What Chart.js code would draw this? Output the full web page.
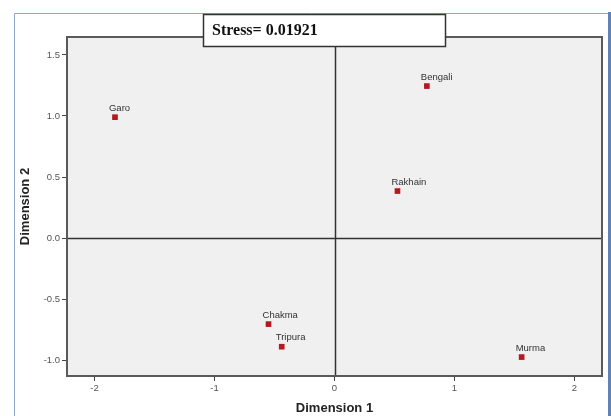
<!DOCTYPE html>
<html>
<head>
<meta charset="utf-8">
<script src="https://cdn.jsdelivr.net/npm/chart.js@4.4.1/dist/chart.umd.min.js"></script>
<style>
  html, body { margin: 0; padding: 0; background: #fff; }
  #wrap { width: 611px; height: 416px; }
</style>
</head>
<body>
<div id="wrap"><canvas id="myChart" width="611" height="416"></canvas></div>
<script>
'use strict'
//////////////////
// Data
//////////////////
const groupNames = ['Garo', 'Bengali', 'Rakhain', 'Chakma', 'Tripura', 'Murma'];
const dimension1 = [-1.83, 0.77, 0.525, -0.55, -0.44, 1.56];
const dimension2 = [0.99, 1.245, 0.385, -0.705, -0.89, -0.975];
const xTicks = [-2, -1, 0, 1, 2];
const yTicks = [-1.0, -0.5, 0.0, 0.5, 1.0, 1.5];
const stressText = 'Stress= 0.01921';

//////////////////
// Plugin for the SPSS look
//////////////////
const spssLook = {
  id: 'spssLook',
  beforeDraw(chart) {
    const ctx = chart.ctx;
    const a = chart.chartArea;
    ctx.save();
    ctx.fillStyle = '#ffffff';
    ctx.fillRect(0, 0, chart.width, chart.height);
    // outer frame
    ctx.strokeStyle = '#8fa8c9';
    ctx.lineWidth = 1;
    ctx.beginPath();
    ctx.moveTo(14.5, chart.height);
    ctx.lineTo(14.5, 13.5);
    ctx.lineTo(608, 13.5);
    ctx.stroke();
    ctx.strokeStyle = '#5f83b8';
    ctx.lineWidth = 3;
    ctx.beginPath();
    ctx.moveTo(609.5, 12);
    ctx.lineTo(609.5, chart.height);
    ctx.stroke();
    // plot background
    ctx.fillStyle = '#f0f0f0';
    ctx.fillRect(a.left, a.top, a.right - a.left, a.bottom - a.top);
    ctx.restore();
  },
  beforeDatasetsDraw(chart) {
    const ctx = chart.ctx;
    const a = chart.chartArea;
    const x0 = Math.round(chart.scales.x.getPixelForValue(0)) + 0.5;
    const y0 = Math.round(chart.scales.y.getPixelForValue(0)) + 0.5;
    ctx.save();
    ctx.strokeStyle = '#333333';
    ctx.lineWidth = 1.5;
    ctx.beginPath();
    ctx.moveTo(x0, a.top);
    ctx.lineTo(x0, a.bottom);
    ctx.moveTo(a.left, y0);
    ctx.lineTo(a.right, y0);
    ctx.stroke();
    // plot frame
    ctx.strokeStyle = '#5a5a5a';
    ctx.lineWidth = 2;
    ctx.strokeRect(a.left, a.top, a.right - a.left, a.bottom - a.top);
    ctx.restore();
  },
  afterDatasetsDraw(chart) {
    const ctx = chart.ctx;
    const meta = chart.getDatasetMeta(0);
    ctx.save();
    ctx.font = '9.5px "Liberation Sans", Arial, sans-serif';
    ctx.fillStyle = '#333333';
    ctx.textAlign = 'left';
    ctx.textBaseline = 'middle';
    meta.data.forEach((pt, i) => {
      ctx.fillText(groupNames[i], pt.x - 6, pt.y - 9);
    });
    ctx.restore();
  },
  afterDraw(chart) {
    const ctx = chart.ctx;
    ctx.save();
    ctx.fillStyle = '#ffffff';
    ctx.fillRect(203, 14, 242, 32);
    ctx.strokeStyle = '#333333';
    ctx.lineWidth = 1.5;
    ctx.strokeRect(203.5, 14.5, 242, 32);
    ctx.fillStyle = '#111111';
    ctx.font = 'bold 16px "Liberation Serif", "Times New Roman", serif';
    ctx.textAlign = 'left';
    ctx.textBaseline = 'middle';
    ctx.fillText(stressText, 212, 31);
    ctx.restore();
  }
};

//////////////////
// Chart
//////////////////
function renderChart() {
  const points = dimension1.map((v, i) => ({ x: v, y: dimension2[i] }));

  const config = {
    type: 'scatter',
    data: {
      datasets: [{
        label: 'Groups',
        data: points,
        pointStyle: 'rect',
        pointRadius: 4,
        pointHoverRadius: 4,
        backgroundColor: '#b3191e',
        borderColor: '#b3191e',
        borderWidth: 0
      }]
    },
    options: {
      responsive: false,
      animation: false,
      events: [],
      layout: { padding: { left: 0, top: 37, right: 9, bottom: 0 } },
      plugins: {
        legend: { display: false },
        tooltip: { enabled: false }
      },
      scales: {
        x: {
          type: 'linear',
          min: -2.23,
          max: 2.23,
          afterBuildTicks: (scale) => { scale.ticks = xTicks.map(v => ({ value: v })); },
          afterFit: (scale) => { scale.height = 40; },
          grid: { drawOnChartArea: false, drawTicks: true, tickLength: 5, color: '#444444' },
          border: { display: false },
          ticks: {
            padding: 2,
            color: '#555555',
            font: { family: '"Liberation Sans", Arial, sans-serif', size: 9.5 },
            callback: (v) => String(v)
          },
          title: {
            display: true,
            text: 'Dimension 1',
            color: '#222222',
            font: { family: '"Liberation Sans", Arial, sans-serif', size: 13, weight: 'bold' },
            padding: { top: 0, bottom: 0 }
          }
        },
        y: {
          type: 'linear',
          min: -1.13,
          max: 1.647,
          afterBuildTicks: (scale) => { scale.ticks = yTicks.map(v => ({ value: v })); },
          afterFit: (scale) => { scale.width = 67; },
          grid: { drawOnChartArea: false, drawTicks: true, tickLength: 5, color: '#444444' },
          border: { display: false },
          ticks: {
            padding: 2,
            color: '#555555',
            font: { family: '"Liberation Sans", Arial, sans-serif', size: 9.5 },
            callback: (v) => Number(v).toFixed(1)
          },
          title: {
            display: true,
            text: 'Dimension 2',
            color: '#222222',
            font: { family: '"Liberation Sans", Arial, sans-serif', size: 13, weight: 'bold' },
            padding: { top: 18, bottom: 0 }
          }
        }
      }
    },
    plugins: [spssLook]
  };

  const canvasChart = document.getElementById('myChart');
  new Chart(canvasChart, config);
}

renderChart();
</script>
</body>
</html>
